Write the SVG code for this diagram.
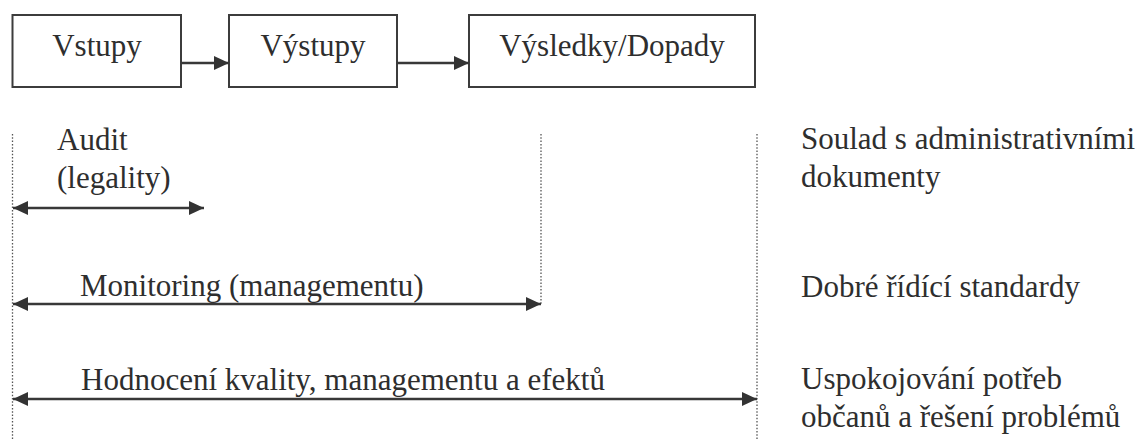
<svg xmlns="http://www.w3.org/2000/svg" width="1146" height="441" viewBox="0 0 1146 441">
  <style>
    .box { fill: #ffffff; stroke: #3c3c3c; stroke-width: 2; }
    .mid { text-anchor: middle; }
    .conn { stroke: #383838; stroke-width: 2.5; fill: none; }
    .guide { stroke: #555555; stroke-width: 1.3; stroke-dasharray: 1.5 1.8; fill: none; }
  </style>
  <defs>
    <marker id="head" viewBox="0 0 15 14" refX="15" refY="7" markerWidth="15" markerHeight="14" markerUnits="userSpaceOnUse" orient="auto-start-reverse">
      <path d="M0,0 L15,7 L0,14 Z" fill="#333333"/>
    </marker>
  </defs>

  <rect width="1146" height="441" fill="#ffffff"/>

  <!-- scope guides -->
  <g id="guides">
    <line class="guide" x1="12.5" y1="134" x2="12.5" y2="441"/>
    <line class="guide" x1="541" y1="134" x2="541" y2="304"/>
    <line class="guide" x1="757" y1="134" x2="757" y2="441"/>
  </g>

  <g font-size="31" fill="#2e2e2e">
    <!-- process chain -->
    <g id="node-vstupy">
      <rect class="box" x="12.5" y="15" width="168.5" height="72"/>
      <text class="mid" x="97" y="56" font-family="Liberation Serif">Vstupy</text>
    </g>
    <g id="node-vystupy">
      <rect class="box" x="229" y="15" width="168" height="72"/>
      <text class="mid" x="313" y="56" font-family="Liberation Serif">Výstupy</text>
    </g>
    <g id="node-vysledky">
      <rect class="box" x="469" y="15" width="286" height="72"/>
      <text class="mid" x="612" y="56" font-family="Liberation Serif">Výsledky/Dopady</text>
    </g>

    <!-- scope labels -->
    <g id="label-audit">
      <text x="57" y="150" font-family="Liberation Serif">Audit</text>
      <text x="57" y="188" font-family="Liberation Serif">(legality)</text>
    </g>
    <g id="label-monitoring">
      <text x="80" y="296" font-family="Liberation Serif">Monitoring (managementu)</text>
    </g>
    <g id="label-hodnoceni">
      <text x="81" y="390" font-family="Liberation Serif">Hodnocení kvality, managementu a efektů</text>
    </g>

    <!-- outcome descriptions -->
    <g id="note-soulad">
      <text x="801" y="149" font-family="Liberation Serif">Soulad s administrativními</text>
      <text x="801" y="187" font-family="Liberation Serif">dokumenty</text>
    </g>
    <g id="note-dobre">
      <text x="801" y="297" font-family="Liberation Serif">Dobré řídící standardy</text>
    </g>
    <g id="note-uspokojovani">
      <text x="801" y="389" font-family="Liberation Serif">Uspokojování potřeb</text>
      <text x="801" y="427" font-family="Liberation Serif">občanů a řešení problémů</text>
    </g>
  </g>

  <!-- connectors -->
  <g id="connectors">
    <line class="conn" x1="181" y1="63" x2="229" y2="63" marker-end="url(#head)"/>
    <line class="conn" x1="397" y1="63" x2="469" y2="63" marker-end="url(#head)"/>
    <line class="conn" x1="13" y1="208" x2="204" y2="208" marker-start="url(#head)" marker-end="url(#head)"/>
    <line class="conn" x1="13" y1="304" x2="541" y2="304" marker-start="url(#head)" marker-end="url(#head)"/>
    <line class="conn" x1="13" y1="399" x2="757" y2="399" marker-start="url(#head)" marker-end="url(#head)"/>
  </g>
</svg>
